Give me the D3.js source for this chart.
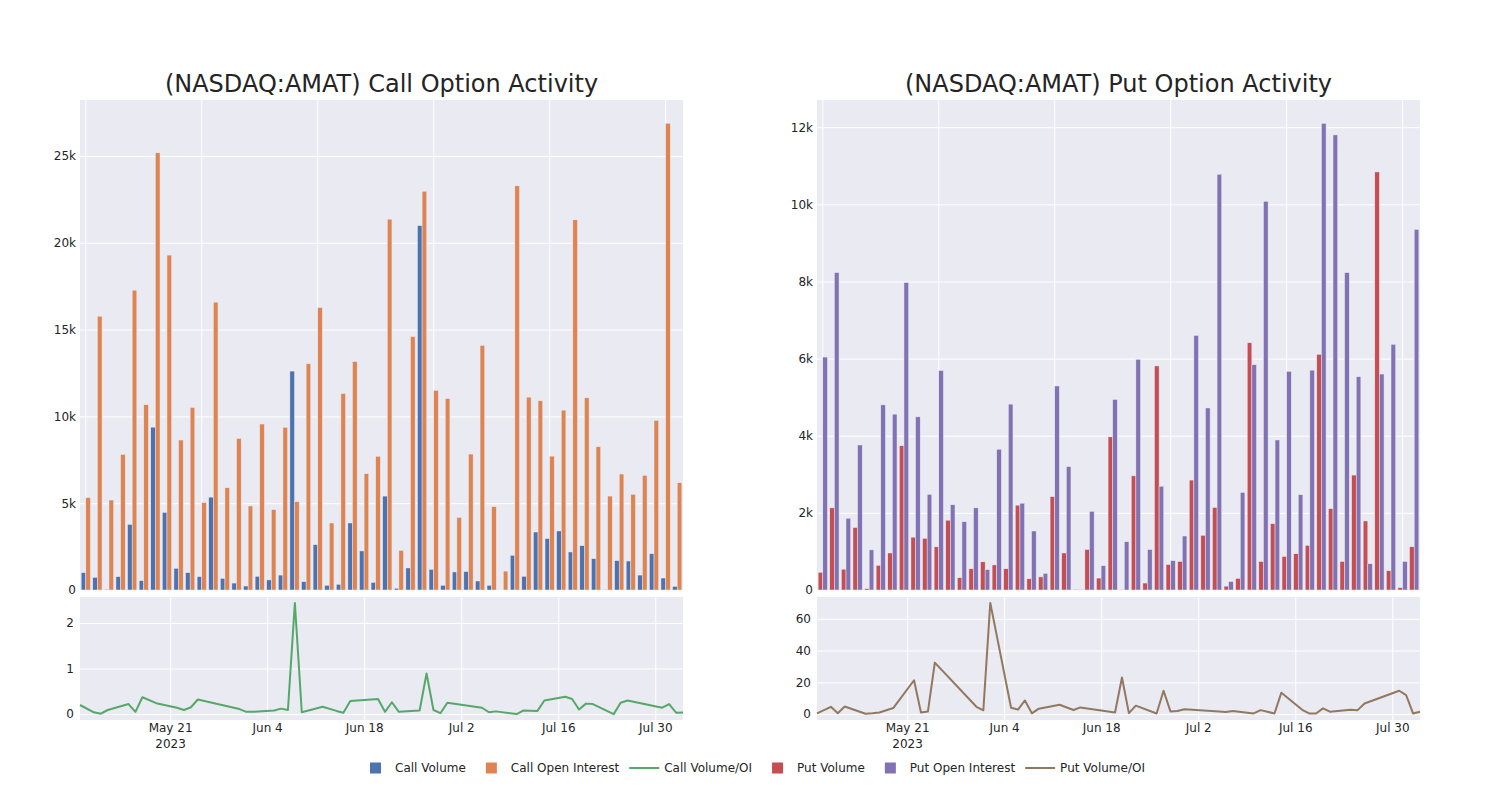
<!DOCTYPE html>
<html><head><meta charset="utf-8">
<script src="https://cdn.jsdelivr.net/npm/d3@7"></script>
<style>body{margin:0;background:#fff;} text{font-family:"DejaVu Sans",sans-serif;}</style>
</head><body><svg id="chart" width="1500" height="800"></svg>
<script>
const dates = ["2023-05-08","2023-05-10","2023-05-11","2023-05-12","2023-05-15","2023-05-16","2023-05-17","2023-05-19","2023-05-22","2023-05-23","2023-05-24","2023-05-25","2023-05-31","2023-06-01","2023-06-02","2023-06-05","2023-06-06","2023-06-07","2023-06-08","2023-06-09","2023-06-12","2023-06-14","2023-06-15","2023-06-16","2023-06-20","2023-06-21","2023-06-22","2023-06-23","2023-06-26","2023-06-27","2023-06-28","2023-06-29","2023-06-30","2023-07-05","2023-07-06","2023-07-07","2023-07-10","2023-07-11","2023-07-13","2023-07-14","2023-07-17","2023-07-18","2023-07-19","2023-07-20","2023-07-21","2023-07-24","2023-07-25","2023-07-26","2023-07-31","2023-08-01","2023-08-02","2023-08-03"];
const callVolume = [1000,730,40,770,3780,540,9380,4470,1250,1000,770,5350,670,400,230,790,580,860,12610,480,2610,270,330,3860,2250,440,5410,100,1270,20990,1190,270,1040,1060,520,270,0,2000,790,3340,2960,3400,2190,2550,1800,20,1690,1670,860,2090,690,210];
const callOpenInterest = [5320,15770,5180,7810,17270,10670,25180,19290,8640,10520,5030,16580,5890,8730,4840,9560,4630,9370,5090,13030,16270,3860,11320,13160,6700,7700,21360,2280,14600,22970,11500,11020,4180,7830,14090,4800,1090,23280,11110,10900,7710,10360,21320,11070,8250,5410,6680,5510,6600,9770,26880,6180];
const callVolOI = [0.2,0.04,0.01,0.09,0.22,0.05,0.37,0.24,0.14,0.09,0.15,0.32,0.11,0.05,0.05,0.08,0.12,0.09,2.44,0.04,0.16,0.07,0.03,0.29,0.33,0.05,0.26,0.05,0.08,0.89,0.09,0.02,0.25,0.14,0.04,0.06,0.0,0.08,0.07,0.3,0.38,0.33,0.1,0.23,0.22,0.0,0.25,0.3,0.14,0.22,0.03,0.035];
const putVolume = [460,2130,540,1620,35,640,960,3740,1370,1340,1120,1810,320,550,730,650,550,2200,290,340,2420,960,17,1050,310,3970,9,2960,180,5810,660,740,2850,1420,2140,100,300,6410,740,1720,870,940,1160,6110,2110,740,2980,1790,10840,500,60,1120];
const putOpenInterest = [6040,8230,1860,3760,1040,4800,4560,7970,4490,2480,5690,2210,1770,2130,530,3650,4820,2250,1530,430,5290,3200,10,2040,630,4940,1250,5980,1050,2690,760,1400,6600,4720,10780,220,2530,5840,10080,3890,5670,2470,5700,12100,11800,8230,5530,680,5600,6370,740,9350];
const putVolOI = [0.4,4.6,0.5,4.8,0.2,0.5,1.0,3.8,21.3,1.0,1.6,32.4,4.6,2.4,70,4.0,2.8,8.6,0.5,3.4,5.9,2.6,4.2,3.5,1.0,23,0.6,5.3,0.4,14.7,1.7,2.0,3.1,1.7,1.3,2.0,0.4,2.5,0.4,13.5,2.7,0.4,0.4,3.6,1.5,2.8,2.5,6.7,14.7,12,0.4,1.5];
const callBarTicks = [0,5000,10000,15000,20000,25000];
const putBarTicks = [0,2000,4000,6000,8000,10000,12000];
const callRatioTicks = [0,1,2];
const putRatioTicks = [0,20,40,60];
const dateTicks = ["2023-05-21","2023-06-04","2023-06-18","2023-07-02","2023-07-16","2023-07-30"];
const legendItems = [
  {label:"Call Volume", type:"bar", color:"#4c72b0"},
  {label:"Call Open Interest", type:"bar", color:"#dd8452"},
  {label:"Call Volume/OI", type:"line", color:"#55a868"},
  {label:"Put Volume", type:"bar", color:"#c44e52"},
  {label:"Put Open Interest", type:"bar", color:"#8172b3"},
  {label:"Put Volume/OI", type:"line", color:"#937860"}
];

const svg = d3.select("#chart");
const parse = d3.timeParse("%Y-%m-%d");
const textColor = "#242424";
const bg = "#eaeaf2";

function styleAxis(sel){
  sel.select(".domain").remove();
  sel.selectAll("text").attr("fill", textColor).style("font-size","12px").style("font-family","DejaVu Sans");
}
function gridAxis(sel){
  sel.select(".domain").remove();
  sel.selectAll("line").attr("stroke","#fff").attr("stroke-width",1);
}

function panel(o){
  const topY0=100, topY1=590, botY0=597, botY1=720;
  const g = svg.append("g");
  g.append("text").attr("x",(o.x0+o.x1)/2).attr("y",84).attr("text-anchor","middle")
    .attr("dominant-baseline","central").style("font-size","24px").attr("fill",textColor).text(o.title);

  // ---- top bar chart
  g.append("rect").attr("x",o.x0).attr("y",topY0).attr("width",o.x1-o.x0).attr("height",topY1-topY0).attr("fill",bg);
  const xb = d3.scaleBand().domain(dates).range([o.x0,o.x1]).paddingInner(0.2).paddingOuter(0.1);
  const xs = d3.scaleBand().domain(["vol","oi"]).range([0,xb.bandwidth()]);
  const yMax = d3.max([...o.vol,...o.oi])*1.05;
  const yb = d3.scaleLinear().domain([0,yMax]).range([topY1,topY0]);
  g.append("g").attr("transform",`translate(${o.x0},0)`)
    .call(d3.axisLeft(yb).tickValues(o.barTicks).tickSize(-(o.x1-o.x0)).tickFormat(""))
    .call(gridAxis);
  g.append("g").attr("transform",`translate(0,${topY1})`)
    .call(d3.axisBottom(xb).tickValues(dates.filter((d,i)=>i%10===0)).tickSize(-(topY1-topY0)).tickFormat(""))
    .call(gridAxis);
  g.append("g").attr("transform",`translate(${o.x0},0)`)
    .call(d3.axisLeft(yb).tickValues(o.barTicks).tickSize(0).tickPadding(4).tickFormat(d3.format("~s")))
    .call(styleAxis);
  const rows = dates.map((d,i)=>({d, vol:o.vol[i], oi:o.oi[i]}));
  const grp = g.append("g").selectAll("g").data(rows).join("g").attr("transform",r=>`translate(${xb(r.d)},0)`);
  grp.append("rect").attr("x",xs("vol")).attr("width",xs.bandwidth())
    .attr("y",r=>yb(r.vol)).attr("height",r=>yb(0)-yb(r.vol)).attr("fill",o.volColor)
    .attr("stroke","#eaeaf2").attr("stroke-width",0.5);
  grp.append("rect").attr("x",xs("oi")).attr("width",xs.bandwidth())
    .attr("y",r=>yb(r.oi)).attr("height",r=>yb(0)-yb(r.oi)).attr("fill",o.oiColor)
    .attr("stroke","#eaeaf2").attr("stroke-width",0.5);

  // ---- bottom line chart
  g.append("rect").attr("x",o.x0).attr("y",botY0).attr("width",o.x1-o.x0).attr("height",botY1-botY0).attr("fill",bg);
  const xt = d3.scaleTime().domain([parse(dates[0]),parse(dates[dates.length-1])]).range([o.x0,o.x1]);
  const rMax = d3.max(o.ratio), pad = rMax*0.053;
  const yl = d3.scaleLinear().domain([-pad, rMax+pad]).range([botY1,botY0]);
  g.append("g").attr("transform",`translate(${o.x0},0)`)
    .call(d3.axisLeft(yl).tickValues(o.ratioTicks).tickSize(-(o.x1-o.x0)).tickFormat(""))
    .call(gridAxis);
  g.append("g").attr("transform",`translate(0,${botY1})`)
    .call(d3.axisBottom(xt).tickValues(dateTicks.map(parse)).tickSize(-(botY1-botY0)).tickFormat(""))
    .call(gridAxis);
  g.append("g").attr("transform",`translate(${o.x0},0)`)
    .call(d3.axisLeft(yl).tickValues(o.ratioTicks).tickSize(0).tickPadding(6).tickFormat(d3.format("d")))
    .call(styleAxis);
  const xa = g.append("g").attr("transform",`translate(0,${botY1})`)
    .call(d3.axisBottom(xt).tickValues(dateTicks.map(parse)).tickSize(0).tickPadding(3).tickFormat(d3.timeFormat("%b %-d")))
    .call(styleAxis);
  xa.selectAll(".tick").filter((d,i)=>i===0).append("text")
    .attr("y",19).attr("dy","0.71em").attr("text-anchor","middle").attr("fill",textColor)
    .style("font-size","12px").text(d3.timeFormat("%Y"));
  const line = d3.line().x((d,i)=>xt(parse(dates[i]))).y(d=>yl(d));
  g.append("path").datum(o.ratio).attr("d",line).attr("fill","none").attr("stroke",o.lineColor)
    .attr("stroke-width",2).attr("stroke-linejoin","round");
}

panel({x0:80,x1:683,title:"(NASDAQ:AMAT) Call Option Activity",vol:callVolume,oi:callOpenInterest,ratio:callVolOI,
  volColor:"#4c72b0",oiColor:"#dd8452",lineColor:"#55a868",barTicks:callBarTicks,ratioTicks:callRatioTicks});
panel({x0:817,x1:1420,title:"(NASDAQ:AMAT) Put Option Activity",vol:putVolume,oi:putOpenInterest,ratio:putVolOI,
  volColor:"#c44e52",oiColor:"#8172b3",lineColor:"#937860",barTicks:putBarTicks,ratioTicks:putRatioTicks});

// legend
const lg = svg.append("g").attr("transform","translate(355,768)");
let cx = 0;
legendItems.forEach(it=>{
  const ig = lg.append("g").attr("transform",`translate(${cx},0)`);
  if(it.type==="bar"){
    ig.append("rect").attr("x",15).attr("y",-5.5).attr("width",11).attr("height",11).attr("fill",it.color);
  } else {
    ig.append("line").attr("x1",5).attr("x2",35).attr("y1",0).attr("y2",0).attr("stroke",it.color).attr("stroke-width",2);
  }
  const t = ig.append("text").attr("x",40).attr("y",0).attr("dominant-baseline","central")
    .style("font-size","12px").attr("fill",textColor).text(it.label);
  cx += 40 + t.node().getComputedTextLength() + 5;
});
</script></body></html>
